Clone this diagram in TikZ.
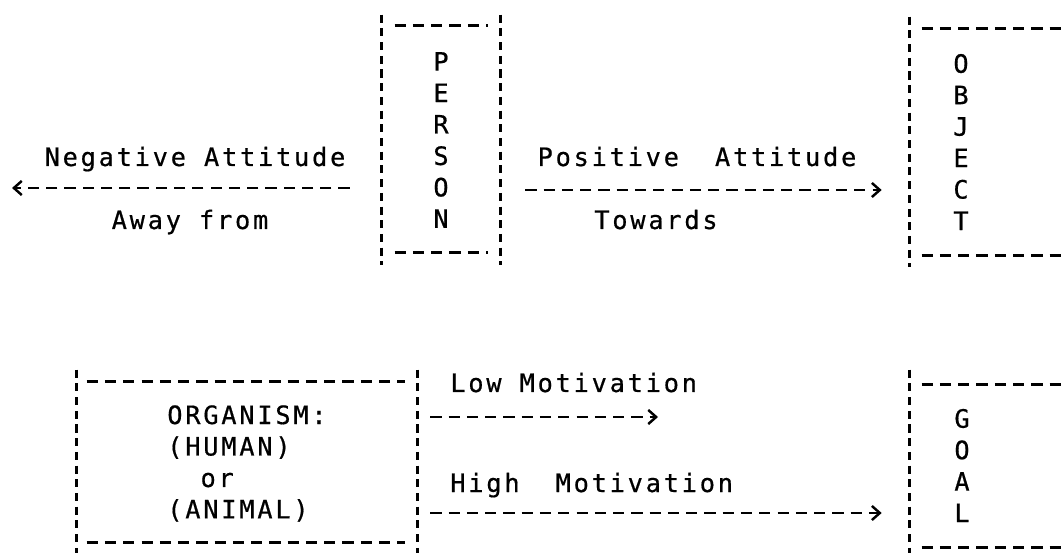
\documentclass[tikz,border=0pt]{standalone}
\usepackage{fontspec}
\usetikzlibrary{arrows.meta,calc,positioning}
\newfontfamily\ttyfont[LetterSpace=11,FakeBold=0.6]{DejaVu Sans Mono}
\newcommand{\ttysize}{\fontsize{14.4}{17.9}\selectfont}

\begin{document}
\begin{tikzpicture}[x=0.02cm,y=-0.02cm,
	txt/.style={font=\ttyfont\ttysize,inner sep=0pt},
	vline/.style={line width=1.6pt,dash pattern=on 4.6pt off 3.2pt},
	hline/.style={line width=1.6pt,dash pattern=on 6.4pt off 4pt},
	dasharrow/.style={hline,-{Straight Barb[length=4.5pt,width=8pt,line width=1.4pt]}}]
			\useasboundingbox (0,0) rectangle (1061,553);
			\clip (0,0) rectangle (1061,553);
			
			\node[txt,align=center,minimum width=2.36cm,minimum height=5cm] (person) at (441,140) {P\\E\\R\\S\\O\\N};
			\draw[vline] (person.north west) -- (person.south west);
			\draw[vline] (person.north east) -- (person.south east);
			\draw[hline] ($(person.north west)+(13,11)$) -- ($(person.north east)+(-12,11)$);
			\draw[hline] ($(person.south west)+(13,-13)$) -- ($(person.south east)+(-12,-13)$);
			
			\node[txt,align=center,minimum width=2.04cm,minimum height=5cm] (object) at (961,142) {O\\B\\J\\E\\C\\T};
			\draw[vline] (object.north west) -- (object.south west);
			\draw[hline] ($(object.north west)+(12,12)$) -- ++(140,0);
			\draw[hline] ($(object.south west)+(12,-12)$) -- ++(140,0);
			
			\node[txt,align=left,minimum width=6.8cm,minimum height=3.74cm] (organism) at (247,463.5) {ORGANISM:\\(HUMAN)\\\phantom{XX}or\\(ANIMAL)};
			\draw[vline] (organism.north west) -- (organism.south west);
			\draw[vline] (organism.north east) -- (organism.south east);
			\draw[hline] ($(organism.north west)+(10,12)$) -- ($(organism.north east)+(-12,12)$);
			\draw[hline] ($(organism.south west)+(10,-15)$) -- ($(organism.south east)+(-12,-15)$);
			
			\node[txt,align=center,minimum width=2.08cm,minimum height=3.82cm] (goal) at (962,465.5) {G\\O\\A\\L};
			\draw[vline] (goal.north west) -- (goal.south west);
			\draw[hline] ($(goal.north west)+(12,15)$) -- ++(140,0);
			\draw[hline] ($(goal.south west)+(12,-14)$) -- ++(140,0);
			
			\coordinate (awayend) at (12,188);
			\draw[dasharrow] ($(person.west)+(-32,48)$) -- (awayend);
			\draw[dasharrow] ($(person.east)+(25,50)$) -- ($(object.west)+(-28,48)$);
			\coordinate (lowend) at (658,417);
			\draw[dasharrow] ($(organism.east)+(13,-46.5)$) -- (lowend);
			\draw[dasharrow] ($(organism.east)+(13,49.5)$) -- ($(goal.west)+(-28,47.5)$);
			
			\node[txt,anchor=base] (neglabel) at (195,166) {Negative Attitude};
			\node[txt,anchor=base] (awaylabel) at (190,229) {Away from};
			\node[txt,anchor=base] (poslabel) at (697,166) {Positive~~Attitude};
			\node[txt,anchor=base] (towardslabel) at (656,229) {Towards};
			\node[txt,anchor=base west] (lowlabel) at (450,392) {Low Motivation};
			\node[txt,anchor=base west] (highlabel) at (450,492) {High~~Motivation};
		\end{tikzpicture}
\end{document}
